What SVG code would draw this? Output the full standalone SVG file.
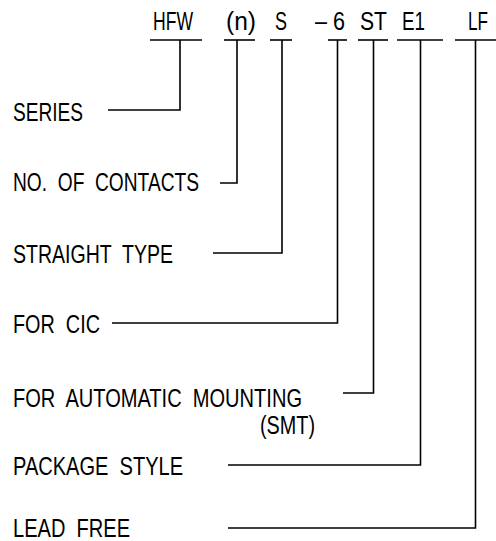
<svg xmlns="http://www.w3.org/2000/svg" width="496" height="541" viewBox="0 0 496 541" xml:space="preserve">
<style>
text{font-family:"Liberation Sans",Arial,sans-serif;font-size:25px;fill:#000;white-space:pre}
.ln{stroke:#000;stroke-width:1.6;fill:none}
</style>
<rect width="496" height="541" fill="#fff"/>
<g id="code">
<g id="c-hfw"><text x="153" y="30" textLength="40" lengthAdjust="spacingAndGlyphs">HFW</text></g>
<g id="c-n"><text x="226" y="30" textLength="30" lengthAdjust="spacingAndGlyphs">(n)</text></g>
<g id="c-s"><text x="275" y="30" textLength="12" lengthAdjust="spacingAndGlyphs">S</text></g>
<g id="c-6"><text x="315" y="30" textLength="30" lengthAdjust="spacingAndGlyphs">– 6</text></g>
<g id="c-st"><text x="360" y="30" textLength="27" lengthAdjust="spacingAndGlyphs">ST</text></g>
<g id="c-e1"><text x="402" y="30" textLength="23" lengthAdjust="spacingAndGlyphs">E1</text></g>
<g id="c-lf"><text x="468" y="30" textLength="20" lengthAdjust="spacingAndGlyphs">LF</text></g>
</g>
<g id="labels">
<g id="l-series"><text x="13" y="121" textLength="70" lengthAdjust="spacingAndGlyphs">SERIES</text></g>
<g id="l-contacts"><text x="13" y="191" textLength="186" lengthAdjust="spacingAndGlyphs">NO.  OF  CONTACTS</text></g>
<g id="l-straight"><text x="13" y="263" textLength="160" lengthAdjust="spacingAndGlyphs">STRAIGHT  TYPE</text></g>
<g id="l-cic"><text x="13" y="333" textLength="87" lengthAdjust="spacingAndGlyphs">FOR  CIC</text></g>
<g id="l-smt"><text x="13" y="407" textLength="289" lengthAdjust="spacingAndGlyphs">FOR  AUTOMATIC  MOUNTING</text><text x="260" y="434" textLength="55" lengthAdjust="spacingAndGlyphs">(SMT)</text></g>
<g id="l-package"><text x="13" y="475" textLength="170" lengthAdjust="spacingAndGlyphs">PACKAGE  STYLE</text></g>
<g id="l-lead"><text x="13" y="537" textLength="117" lengthAdjust="spacingAndGlyphs">LEAD  FREE</text></g>
</g>
<g id="connectors" class="ln">
<line x1="150" y1="40" x2="202" y2="40"/>
<line x1="224" y1="40" x2="255" y2="40"/>
<line x1="270" y1="40" x2="292" y2="40"/>
<line x1="328" y1="40" x2="347" y2="40"/>
<line x1="358" y1="40" x2="388" y2="40"/>
<line x1="397" y1="40" x2="443" y2="40"/>
<line x1="455" y1="40" x2="496" y2="40"/>
<polyline points="180,40 180,110 108,110"/>
<polyline points="237,40 237,183 220,183"/>
<polyline points="282,40 282,253 213,253"/>
<polyline points="337.5,40 337.5,323 112,323"/>
<polyline points="373.5,40 373.5,393 343,393"/>
<polyline points="420.5,40 420.5,465 228,465"/>
<polyline points="475.5,40 475.5,528 228,528"/>
</g>
</svg>
